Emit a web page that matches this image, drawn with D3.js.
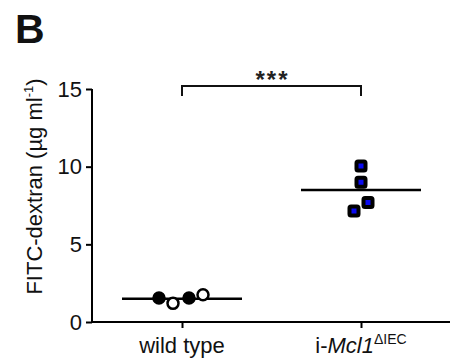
<!DOCTYPE html>
<html>
<head>
<meta charset="utf-8">
<script src="https://cdn.jsdelivr.net/npm/d3@7"></script>
<style>
  html, body { margin: 0; padding: 0; background: #fff; }
  svg { display: block; font-family: Arial, "Liberation Sans", sans-serif; }
</style>
</head>
<body>
<div id="chart"></div>
<script>
const groups = ['wild type', 'i-Mcl1'];
const yTicks = [0, 5, 10, 15];

// individual animals, with horizontal jitter in px
const wtValues = [1.55, 1.2, 1.55, 1.75];
const wtOffsets = [-23, -9, 7, 21];
const wtFilled = [true, false, true, false];
const mclValues = [10.05, 9.0, 7.7, 7.15];
const mclOffsets = [0, 0, 7, -7];
const means = [1.5, 8.5];

const W = 451, H = 361;
const svg = d3.select('#chart').append('svg')
  .attr('width', W).attr('height', H);

const y = d3.scaleLinear().domain([0, 15]).range([322, 89]);
const x = d3.scalePoint().domain(groups).range([182, 361]);

// panel letter
svg.append('text')
  .attr('x', 15).attr('y', 43)
  .attr('font-size', 41).attr('font-weight', 'bold')
  .attr('fill', '#111')
  .text('B');

// y axis
const yAxis = svg.append('g')
  .attr('transform', 'translate(92,0)')
  .call(d3.axisLeft(y).tickValues(yTicks).tickSize(6).tickPadding(4));
yAxis.select('.domain').attr('d', `M0,${y(15)}V${y(0)}`).attr('stroke-width', 2);
yAxis.selectAll('.tick line').attr('stroke-width', 2);
yAxis.selectAll('.tick text').attr('font-size', 22).attr('fill', '#111')
  .attr('font-family', 'Arial, "Liberation Sans", sans-serif');

// x axis
const xAxis = svg.append('g')
  .attr('transform', `translate(0,${y(0)})`)
  .call(d3.axisBottom(x).tickSize(6).tickFormat(''));
xAxis.select('.domain').attr('d', 'M92,0H450').attr('stroke-width', 2);
xAxis.selectAll('.tick line').attr('stroke-width', 2);

// x labels
svg.append('text')
  .attr('x', x('wild type')).attr('y', 353)
  .attr('text-anchor', 'middle').attr('font-size', 22).attr('fill', '#111')
  .text('wild type');

const mclLabel = svg.append('text')
  .attr('x', x('i-Mcl1')).attr('y', 353)
  .attr('text-anchor', 'middle').attr('font-size', 22).attr('fill', '#111');
mclLabel.append('tspan').text('i-');
mclLabel.append('tspan').attr('font-style', 'italic').text('Mcl1');
mclLabel.append('tspan').attr('font-size', 14).attr('dy', -9).text('\u0394IEC');

// y label
svg.append('text')
  .attr('transform', `translate(42,${(y(0) + y(15)) / 2 - 19}) rotate(-90)`)
  .attr('text-anchor', 'middle').attr('font-size', 22).attr('fill', '#111')
  .call(t => {
    t.append('tspan').text('FITC-dextran (\u00b5g ml');
    t.append('tspan').attr('font-size', 13).attr('dy', -9).text('-1');
    t.append('tspan').attr('dy', 9).text(')');
  });

// mean lines
const halfW = 60;
svg.selectAll('line.mean')
  .data(means)
  .join('line')
  .attr('class', 'mean')
  .attr('x1', (d, i) => x(groups[i]) - halfW)
  .attr('x2', (d, i) => x(groups[i]) + halfW)
  .attr('y1', d => y(d)).attr('y2', d => y(d))
  .attr('stroke', '#000').attr('stroke-width', 2.5);

// wild type circles
svg.selectAll('circle.wt')
  .data(wtValues)
  .join('circle')
  .attr('class', 'wt')
  .attr('cx', (d, i) => x('wild type') + wtOffsets[i])
  .attr('cy', d => y(d))
  .attr('r', 5.5)
  .attr('fill', (d, i) => wtFilled[i] ? '#000' : '#fff')
  .attr('stroke', '#000').attr('stroke-width', 2.5);

// mcl1 squares
const sq = 9;
svg.selectAll('rect.mcl')
  .data(mclValues)
  .join('rect')
  .attr('class', 'mcl')
  .attr('x', (d, i) => x('i-Mcl1') + mclOffsets[i] - sq / 2)
  .attr('y', d => y(d) - sq / 2)
  .attr('width', sq).attr('height', sq)
  .attr('rx', 1.5)
  .attr('fill', '#0a0af0')
  .attr('stroke', '#000').attr('stroke-width', 4)
  .attr('stroke-linejoin', 'round');

// significance bracket
const by = 86;
svg.append('path')
  .attr('d', `M${x('wild type')},${by + 10}V${by}H${x('i-Mcl1')}V${by + 10}`)
  .attr('fill', 'none').attr('stroke', '#111').attr('stroke-width', 2);
svg.append('text')
  .attr('x', (x('wild type') + x('i-Mcl1')) / 2 + 1).attr('y', 88)
  .attr('text-anchor', 'middle').attr('font-size', 24).attr('font-weight', 'bold')
  .attr('letter-spacing', 2)
  .attr('fill', '#222')
  .text('***');
</script>
</body>
</html>
